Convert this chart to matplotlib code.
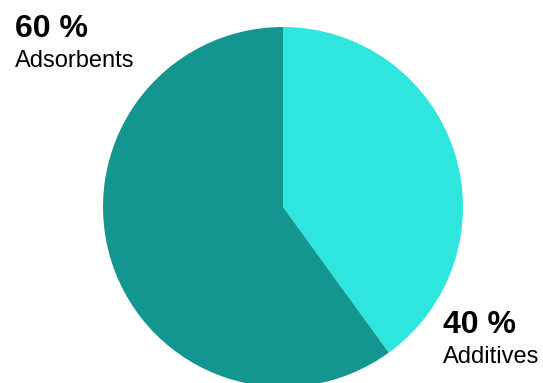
import matplotlib.pyplot as plt

labels = ['Additives', 'Adsorbents']
shares = [40, 60]
colors = ['#2EE6DE', '#13968F']

W, H = 543, 383
fig = plt.figure(figsize=(W / 100, H / 100), dpi=100)

# square axes holding the pie, centred at (283, 207) px with radius 180 px
cx, cy, r = 283, 207, 180
ax = fig.add_axes([(cx - r) / W, (H - cy - r) / H, 2 * r / W, 2 * r / H])
ax.pie(shares, colors=colors, startangle=90, counterclock=False,
       radius=1, center=(0, 0), wedgeprops=dict(linewidth=0))
ax.set_xlim(-1, 1)
ax.set_ylim(-1, 1)
ax.set_aspect('auto')
ax.axis('off')

font = 'Liberation Sans'

def label(x, y, pct, name):
    fig.text(x / W, 1 - y / H, f'{pct} %', fontsize=23, fontweight='bold',
             family=font, va='baseline', ha='left')
    fig.text(x / W, 1 - (y + 30) / H, name, fontsize=17,
             family=font, va='baseline', ha='left')

label(15, 37, shares[1], labels[1])
label(443, 333, shares[0], labels[0])

fig.savefig('out.png', dpi=100)
